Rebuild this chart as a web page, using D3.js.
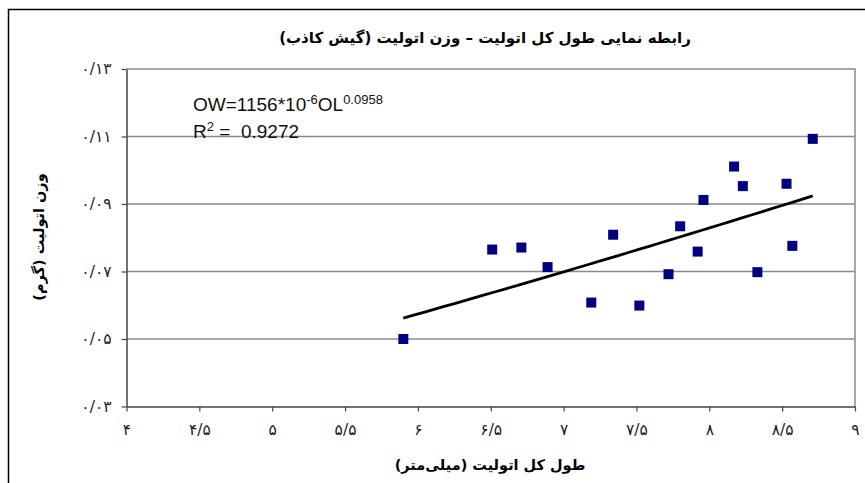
<!DOCTYPE html>
<html>
<head>
<meta charset="utf-8">
<script src="https://cdn.jsdelivr.net/npm/d3@7/dist/d3.min.js"></script>
<style>
  body { margin: 0; background: #fff; }
  svg { display: block; }
</style>
</head>
<body>
<svg id="chart" width="865" height="483"></svg>
<script>
// Données
const longueur = [5.90, 6.51, 6.71, 6.89, 7.19, 7.34, 7.52, 7.72, 7.80, 7.92, 7.96, 8.17, 8.23, 8.33, 8.53, 8.57, 8.71];
const poids    = [0.050, 0.0765, 0.0771, 0.0713, 0.0608, 0.0809, 0.0599, 0.0692, 0.0834, 0.0759, 0.0912, 0.1011, 0.0953, 0.0698, 0.0960, 0.0776, 0.1093];

// Extrémités de la courbe de tendance (puissance)
const tendanceX = [5.90, 8.71];
const tendanceY = [0.0562, 0.0924];

const ticksX = [4, 4.5, 5, 5.5, 6, 6.5, 7, 7.5, 8, 8.5, 9];
const labelsX = ["۴", "۴/۵", "۵", "۵/۵", "۶", "۶/۵", "۷", "۷/۵", "۸", "۸/۵", "۹"];
const ticksY = [0.03, 0.05, 0.07, 0.09, 0.11, 0.13];
const labelsY = ["۰/۰۳", "۰/۰۵", "۰/۰۷", "۰/۰۹", "۰/۱۱", "۰/۱۳"];

const titre = "رابطه نمایی طول کل اتولیت – وزن اتولیت (گیش کاذب)";
const titreX = "طول کل اتولیت (میلی‌متر)";
const titreY = "وزن اتولیت (گرم)";

const svg = d3.select("#chart");
const fa = "'DejaVu Sans', sans-serif";
const la = "'Liberation Sans', Arial, sans-serif";

// Cadre extérieur
svg.append("rect").attr("x", 8.5).attr("y", 9.5).attr("width", 870).attr("height", 490)
   .attr("fill", "none").attr("stroke", "#000").attr("stroke-width", 1.5);

const m = { left: 126.5, right: 855, top: 69, bottom: 406.5 };
const x = d3.scaleLinear().domain([4, 9]).range([m.left, m.right]);
const y = d3.scaleLinear().domain([0.03, 0.13]).range([m.bottom, m.top]);

// Grille
svg.append("g").selectAll("line").data(ticksY.slice(1, -1)).join("line")
   .attr("x1", m.left).attr("x2", m.right)
   .attr("y1", d => y(d)).attr("y2", d => y(d))
   .attr("stroke", "#8a8a8a").attr("stroke-width", 1.5);

// Bordure grise haut / droite
svg.append("path")
   .attr("d", `M${m.left},${m.top}H${m.right}V${m.bottom}`)
   .attr("fill", "none").attr("stroke", "#8a8a8a").attr("stroke-width", 1.5);

// Axes
const axeX = svg.append("g").attr("transform", `translate(0,${m.bottom})`)
   .call(d3.axisBottom(x).tickValues(ticksX).tickSize(5).tickSizeOuter(0)
         .tickFormat((d, i) => labelsX[i]));
const axeY = svg.append("g").attr("transform", `translate(${m.left},0)`)
   .call(d3.axisLeft(y).tickValues(ticksY).tickSize(5).tickSizeOuter(0)
         .tickFormat((d, i) => labelsY[i]));

[axeX, axeY].forEach(g => {
  g.select(".domain").attr("stroke", "#444").attr("stroke-width", 1.5);
  g.selectAll(".tick line").attr("stroke", "#444").attr("stroke-width", 1.2);
  g.selectAll("text").attr("font-family", fa).attr("font-size", 15.5).attr("fill", "#222");
});
axeX.selectAll("text").attr("dy", "1.3em");
axeY.selectAll("text").attr("dx", "-0.45em");

// Courbe de tendance : OW = a * OL^b passant par les extrémités lues
const b = Math.log(tendanceY[1] / tendanceY[0]) / Math.log(tendanceX[1] / tendanceX[0]);
const a = tendanceY[0] / Math.pow(tendanceX[0], b);
const ptsTendance = d3.range(0, 41).map(i => {
  const xv = tendanceX[0] + (tendanceX[1] - tendanceX[0]) * i / 40;
  return [xv, a * Math.pow(xv, b)];
});
svg.append("path").datum(ptsTendance)
   .attr("d", d3.line().x(d => x(d[0])).y(d => y(d[1])))
   .attr("fill", "none").attr("stroke", "#000").attr("stroke-width", 2.8);

// Points
svg.append("g").selectAll("rect").data(longueur).join("rect")
   .attr("x", (d) => x(d) - 5).attr("y", (d, i) => y(poids[i]) - 5)
   .attr("width", 10).attr("height", 10).attr("fill", "#000080");

// Equation
const eq = svg.append("text").attr("x", 193).attr("y", 111)
   .attr("font-family", la).attr("font-size", 19).attr("fill", "#111");
eq.append("tspan").text("OW=1156*10");
eq.append("tspan").attr("font-size", 13).attr("dy", -7).text("-6");
eq.append("tspan").attr("dy", 7).text("OL");
eq.append("tspan").attr("font-size", 13).attr("dy", -7).text("0.0958");
const r2 = svg.append("text").attr("x", 193).attr("y", 138)
   .attr("font-family", la).attr("font-size", 19).attr("fill", "#111")
   .attr("xml:space", "preserve").style("white-space", "pre");
r2.append("tspan").text("R");
r2.append("tspan").attr("font-size", 13).attr("dy", -7).text("2");
r2.append("tspan").attr("dy", 7).text(" =  0.9272");

// Titres
svg.append("text").attr("x", 485).attr("y", 43).attr("text-anchor", "middle")
   .attr("font-family", fa).attr("font-weight", "bold").attr("font-size", 15).attr("direction", "rtl")
   .style("unicode-bidi", "plaintext").text(titre);
svg.append("text").attr("x", 490).attr("y", 470).attr("text-anchor", "middle")
   .attr("font-family", fa).attr("font-weight", "bold").attr("font-size", 14.5).text(titreX);
svg.append("text").attr("transform", "translate(44,237) rotate(-90)").attr("text-anchor", "middle")
   .attr("font-family", fa).attr("font-weight", "bold").attr("font-size", 14.5).text(titreY);
</script>
</body>
</html>
